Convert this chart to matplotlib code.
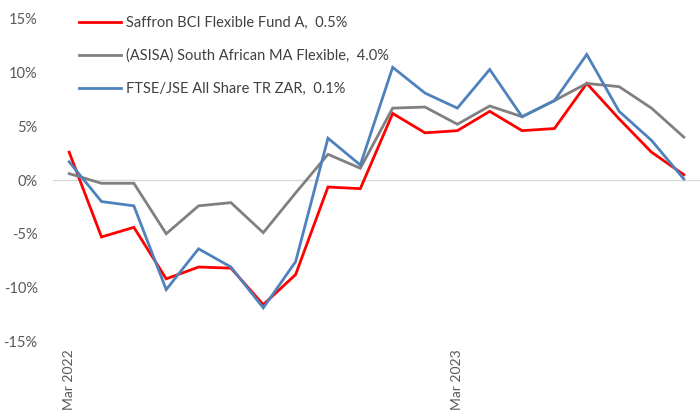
import matplotlib
matplotlib.use("Agg")
import matplotlib.pyplot as plt
from matplotlib.ticker import FuncFormatter

# === data (monthly, Mar 2022 - Oct 2023) ===
months = ["Mar 2022", "Apr 2022", "May 2022", "Jun 2022", "Jul 2022", "Aug 2022",
          "Sep 2022", "Oct 2022", "Nov 2022", "Dec 2022", "Jan 2023", "Feb 2023",
          "Mar 2023", "Apr 2023", "May 2023", "Jun 2023", "Jul 2023", "Aug 2023",
          "Sep 2023", "Oct 2023"]

saffron = [2.6, -5.3, -4.4, -9.2, -8.1, -8.2, -11.6, -8.8, -0.65, -0.8,
           6.2, 4.4, 4.6, 6.4, 4.6, 4.8, 9.0, 5.7, 2.6, 0.5]
asisa = [0.6, -0.3, -0.3, -5.0, -2.4, -2.1, -4.9, -1.2, 2.4, 1.1,
         6.7, 6.8, 5.2, 6.9, 5.9, 7.4, 9.0, 8.7, 6.7, 4.0]
ftse = [1.7, -2.0, -2.4, -10.2, -6.4, -8.1, -11.9, -7.6, 3.9, 1.4,
        10.5, 8.1, 6.7, 10.3, 5.9, 7.4, 11.7, 6.4, 3.7, 0.1]

labels = ["Saffron BCI Flexible Fund A,  0.5%",
          "(ASISA) South African MA Flexible,  4.0%",
          "FTSE/JSE All Share TR ZAR,  0.1%"]
colors = ["#FF0000", "#808080", "#4F81BD"]
tick_idx = [0, 12]

plt.rcParams["font.family"] = ["Lato", "DejaVu Sans"]

fig = plt.figure(figsize=(7, 4.13), dpi=100)
ax = fig.add_axes([0.0757, 0.174, 0.9243, 0.78])

x = list(range(len(months)))
for vals, lab, col in zip([saffron, asisa, ftse], labels, colors):
    ax.plot(x, vals, color=col, lw=2.0, label=lab, solid_joinstyle="miter")

ax.axhline(0, color="#D9D9D9", lw=1.0, zorder=0)

ax.set_xlim(-0.5, len(months) - 0.5)
ax.set_ylim(-15, 15)
ax.set_yticks(range(-15, 16, 5))
ax.yaxis.set_major_formatter(FuncFormatter(lambda v, p: f"{v:.0f}%"))
ax.set_xticks(tick_idx)
ax.set_xticklabels([months[i] for i in tick_idx], rotation=90, va="top", ha="center")

for s in ax.spines.values():
    s.set_visible(False)
ax.tick_params(axis="both", length=0, labelsize=10.5, colors="#595959")
ax.tick_params(axis="y", pad=11)
ax.tick_params(axis="x", pad=6, labelsize=10)

leg = ax.legend(loc="upper left", bbox_to_anchor=(0.031, 1.028), frameon=False,
                fontsize=10.5, handlelength=2.9, handletextpad=0.3,
                labelspacing=1.3, borderaxespad=0)
for t in leg.get_texts():
    t.set_color("#404040")

fig.savefig("out.png", dpi=100)
